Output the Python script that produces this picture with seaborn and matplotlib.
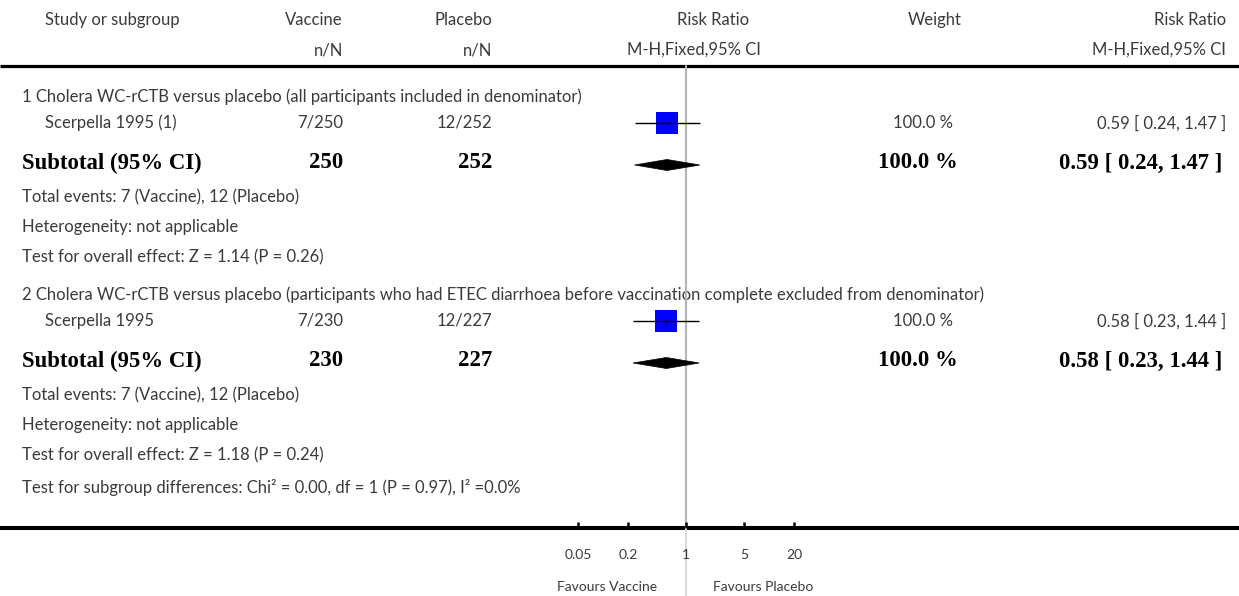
import numpy as np
import pandas as pd
import matplotlib
matplotlib.use("Agg")
import matplotlib.pyplot as plt
from matplotlib.patches import Polygon
import seaborn as sns

# ---- data -------------------------------------------------------------
subgroups = [
    "1 Cholera WC-rCTB versus placebo (all participants included in denominator)",
    "2 Cholera WC-rCTB versus placebo (participants who had ETEC diarrhoea before vaccination complete excluded from denominator)",
]
studies = ["Scerpella 1995 (1)", "Scerpella 1995"]
vac_events = [7, 7]
vac_total = [250, 230]
pla_events = [12, 12]
pla_total = [252, 227]
weights = [100.0, 100.0]
rr = [0.59, 0.58]
rr_low = [0.24, 0.23]
rr_high = [1.47, 1.44]
z_values = [1.14, 1.18]
p_values = [0.26, 0.24]
subgroup_test = "Test for subgroup differences: Chi² = 0.00, df = 1 (P = 0.97), I² =0.0%"
axis_ticks = [0.05, 0.2, 1, 5, 20]
axis_tick_labels = ["0.05", "0.2", "1", "5", "20"]
favours = ["Favours Vaccine", "Favours Placebo"]

# ---- style -------------------------------------------------------------
sns.set_theme(style="white")
plt.rcParams["font.family"] = ["Lato", "DejaVu Sans"]

W, H = 1239, 596
fig = plt.figure(figsize=(W / 100, H / 100), dpi=100)

# full-figure text layer in pixel units
ax = fig.add_axes([0, 0, 1, 1])
ax.set_xlim(0, W)
ax.set_ylim(H, 0)
ax.axis("off")

# forest panel: log risk-ratio axis, 0.01 .. 100
fx0, fx1 = 520, 852
fax = fig.add_axes([fx0 / W, 0, (fx1 - fx0) / W, 1])
fax.set_xscale("log")
fax.set_xlim(0.01, 100)
fax.set_ylim(H, 0)
fax.axis("off")
fax.patch.set_alpha(0)

TXT = "#3a3a3a"
REG = dict(family=["Lato", "DejaVu Sans"], fontweight="normal", fontsize=12, color=TXT, va="center")
SMALL = dict(REG, fontsize=10)
BOLD = dict(family=["Liberation Serif", "DejaVu Serif"], fontweight="bold", fontsize=16.4, color="black", va="center")

X_LEFT, X_STUDY = 22, 45
X_VAC, X_PLA = 343, 492
X_WT, X_RR = 958, 1226

# header
ax.text(X_STUDY, 20, "Study or subgroup", ha="left", **REG)
ax.text(X_VAC, 20, "Vaccine", ha="right", **REG)
ax.text(X_PLA, 20, "Placebo", ha="right", **REG)
ax.text(713, 20, "Risk Ratio", ha="center", **REG)
ax.text(X_WT + 4, 20, "Weight", ha="right", **REG)
ax.text(X_RR, 20, "Risk Ratio", ha="right", **REG)
ax.text(X_VAC, 50, "n/N", ha="right", **REG)
ax.text(X_PLA, 50, "n/N", ha="right", **REG)
ax.text(694, 50, "M-H,Fixed,95% CI", ha="center", **REG)
ax.text(X_RR, 50, "M-H,Fixed,95% CI", ha="right", **REG)
ax.plot([0, W], [66, 66], color="black", lw=2.3, solid_capstyle="butt")

# rows
block = 198
study_y, sub_y = [], []
for i in range(len(studies)):
    y0 = 97 + i * block
    ys, yt = y0 + 26, y0 + 68
    study_y.append(ys)
    sub_y.append(yt)
    ax.text(X_LEFT, y0, subgroups[i], ha="left", **REG)
    ax.text(X_STUDY, ys, studies[i], ha="left", **REG)
    ax.text(X_VAC, ys, f"{vac_events[i]}/{vac_total[i]}", ha="right", **REG)
    ax.text(X_PLA, ys, f"{pla_events[i]}/{pla_total[i]}", ha="right", **REG)
    ax.text(X_WT - 5, ys, f"{weights[i]:.1f} %", ha="right", **REG)
    ax.text(X_RR, ys, f"{rr[i]:.2f} [ {rr_low[i]:.2f}, {rr_high[i]:.2f} ]", ha="right", **REG)

    ax.text(X_LEFT, yt - 2, "Subtotal (95% CI)", ha="left", **BOLD)
    ax.text(X_VAC, yt - 2, f"{vac_total[i]}", ha="right", **BOLD)
    ax.text(X_PLA, yt - 2, f"{pla_total[i]}", ha="right", **BOLD)
    ax.text(X_WT, yt - 2, f"{weights[i]:.1f} %", ha="right", **BOLD)
    ax.text(X_RR - 4, yt - 2, f"{rr[i]:.2f} [ {rr_low[i]:.2f}, {rr_high[i]:.2f} ]", ha="right", **BOLD)

    ax.text(X_LEFT, y0 + 100, f"Total events: {vac_events[i]} (Vaccine), {pla_events[i]} (Placebo)", ha="left", **REG)
    ax.text(X_LEFT, y0 + 130, "Heterogeneity: not applicable", ha="left", **REG)
    ax.text(X_LEFT, y0 + 160, f"Test for overall effect: Z = {z_values[i]:.2f} (P = {p_values[i]:.2f})", ha="left", **REG)

ax.text(X_LEFT, 488, subgroup_test, ha="left", **REG)

# bottom axis line across the figure
AXIS_Y = 528
ax.plot([0, W], [AXIS_Y, AXIS_Y], color="black", lw=2.9, solid_capstyle="butt", zorder=3)

# line of no effect
fax.plot([1, 1], [66, AXIS_Y], color="#b5b5b5", lw=1.5, zorder=1)
fax.plot([1, 1], [AXIS_Y, H], color="#dadada", lw=1.5, zorder=1)

# ticks and tick labels
fax.vlines(axis_ticks, AXIS_Y - 6, AXIS_Y, color="black", lw=1.8, zorder=3)
for t, lab in zip(axis_ticks, axis_tick_labels):
    fax.text(t, 555, lab, ha="center", **SMALL)
ax.text(657, 587, favours[0], ha="right", **SMALL)
ax.text(713, 587, favours[1], ha="left", **SMALL)

# study squares and confidence intervals
df = pd.DataFrame({"rr": rr, "y": study_y})
sns.scatterplot(data=df, x="rr", y="y", marker="s", s=251, color="#0000ff",
                linewidth=0, ax=fax, zorder=4, legend=False)
fax.hlines(study_y, rr_low, rr_high, color="black", lw=1.0, zorder=5)
fax.vlines(rr, np.array(study_y) - 1.5, np.array(study_y) + 1.5, color="black", lw=1.0, zorder=5)

# pooled diamonds
for i in range(len(rr)):
    yc = sub_y[i]
    dia = Polygon([(rr_low[i], yc), (rr[i], yc - 5.5), (rr_high[i], yc), (rr[i], yc + 5.5)],
                  closed=True, facecolor="black", edgecolor="black", lw=0.5, zorder=4)
    fax.add_patch(dia)

fax.set_xlim(0.01, 100)
fax.set_ylim(H, 0)
fax.axis("off")

fig.savefig("out.png", dpi=100)
